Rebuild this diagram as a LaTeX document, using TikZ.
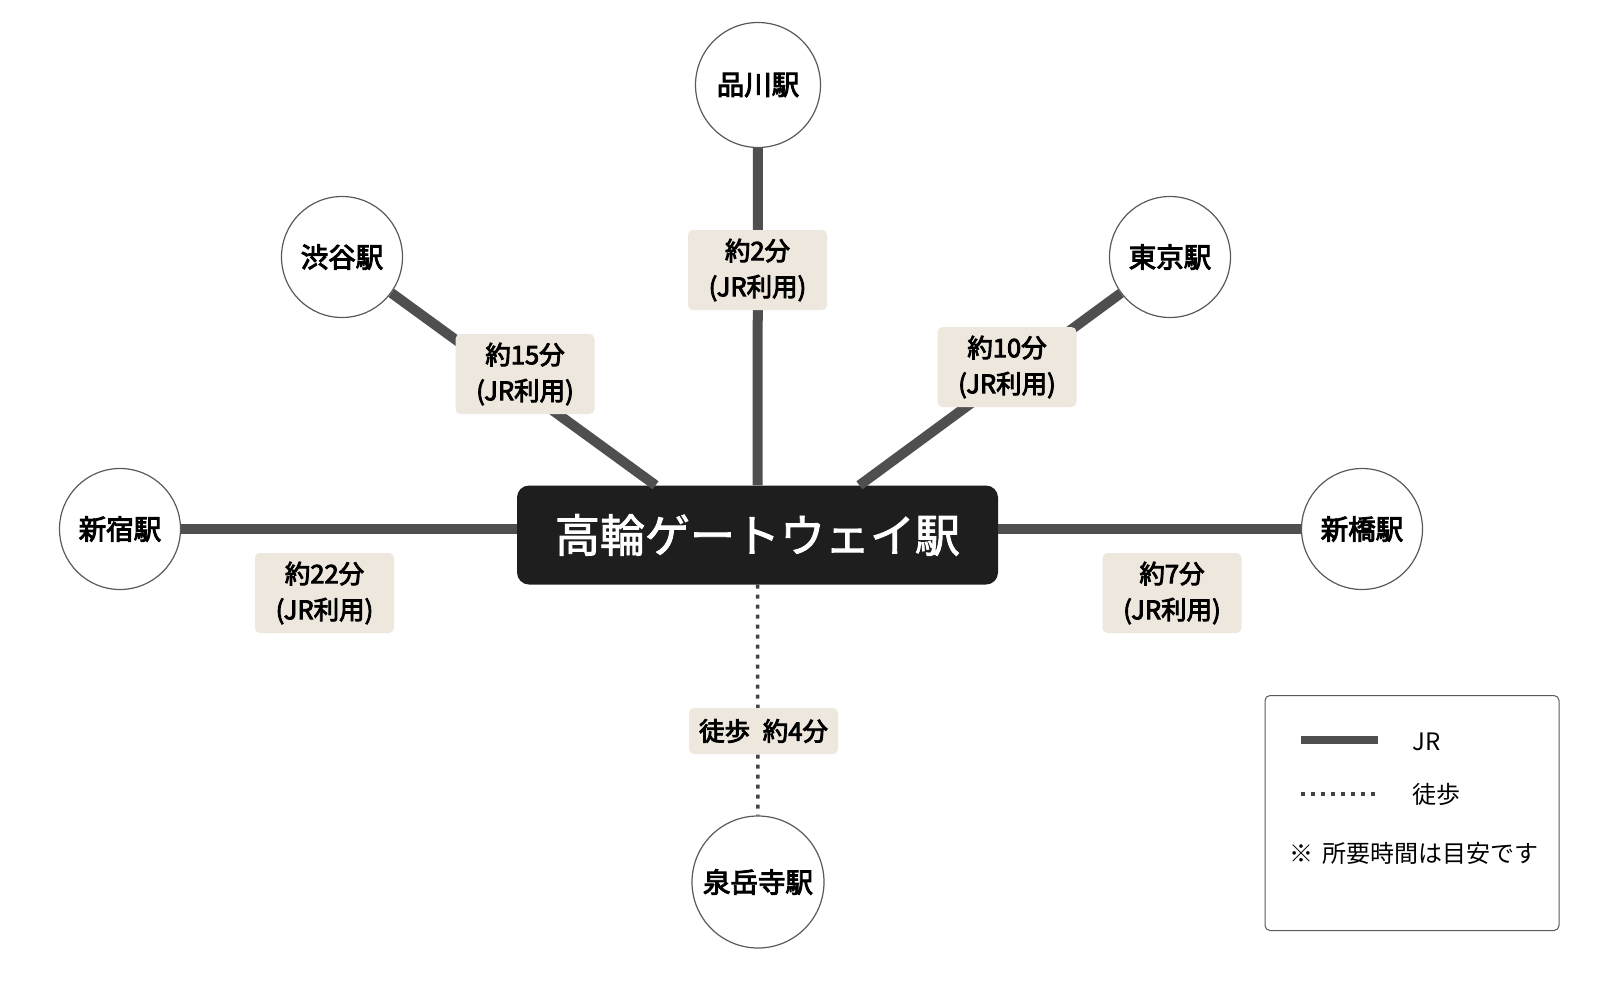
\documentclass[tikz,border=0pt]{standalone}
\usepackage{fontspec}
\setmainfont{Noto Sans CJK JP}
\newfontfamily\medfont[FakeBold=3.5]{Noto Sans CJK JP}
\newfontfamily\hubfont[FakeBold=2]{Noto Sans CJK JP}
\usepackage{xcolor}
\usepackage{tikz}
\usetikzlibrary{positioning}
\definecolor{jrgray}{HTML}{4F4F4F}
\definecolor{hubblack}{HTML}{1E1E1E}
\definecolor{tagbeige}{HTML}{EEE7DD}
\definecolor{ringgray}{HTML}{5A5A5A}

\begin{document}
\begin{tikzpicture}[x=1pt, y=-1pt,
  station/.style={circle, draw=ringgray, line width=1.2pt, fill=white, minimum size=121pt, inner sep=0pt, font=\fontsize{27.5}{30}\medfont},
  hubbox/.style={fill=hubblack, text=white, rounded corners=12pt, minimum width=481pt, minimum height=99pt, font=\fontsize{45}{54}\hubfont},
  tag/.style={fill=tagbeige, rounded corners=5pt, align=center, minimum width=139pt, minimum height=80pt, inner sep=4pt, font=\fontsize{25.5}{36}\medfont},
  jr/.style={draw=jrgray, line width=10pt},
  walk/.style={draw=jrgray!85!black, line width=3.5pt, dash pattern=on 4pt off 6pt},
  keytext/.style={anchor=west, inner sep=0pt, font=\fontsize{24}{28}\selectfont}]
\fill[white] (0,0) rectangle (1605,980);
\useasboundingbox (0,0) rectangle (1605,980);
\node[hubbox] (hub) at (757.5,535) {高輪ゲートウェイ駅};
\node[station, minimum size=125pt] (shin) at (758,85) {品川駅};
\node[station] (shib) at (342,257) {渋谷駅};
\node[station] (tok) at (1170,257) {東京駅};
\node[station] (juku) at (120,529) {新宿駅};
\node[station] (bashi) at (1362,529) {新橋駅};
\node[station, minimum size=132pt] (sen) at (758,882) {泉岳寺駅};
\draw[jr] (shin) -- (hub);
\draw[jr] (shib) -- (hub.154);
\draw[jr] (tok) -- (hub.26);
\draw[jr] (juku) -- (juku -| hub.west);
\draw[jr] (bashi) -- (bashi -| hub.east);
\draw[walk] (hub) -- (sen);
\node[tag] (t2) at (757.5,270) {約2分\\(JR利用)};
\node[tag] (t15) at (525,374) {約15分\\(JR利用)};
\node[tag] (t10) at (1007,367) {約10分\\(JR利用)};
\node[tag] (t22) at (324.5,593) {約22分\\(JR利用)};
\node[tag] (t7) at (1172,593) {約7分\\(JR利用)};
\node[tag, minimum width=149pt, minimum height=46pt] (t4) at (763.5,731) {徒歩\hspace{0.5em}約4分};
\node[draw=ringgray, line width=1pt, rounded corners=5pt, minimum width=294pt, minimum height=235pt] (key) at (1412,813) {};
\coordinate (jra) at (1301,740);
\coordinate (jrb) at (1378,740);
\coordinate (wka) at (1301,794);
\coordinate (wkb) at (1378,794);
\draw[jrgray, line width=8pt] (jra) -- (jrb);
\draw[walk] (wka) -- (wkb);
\node[keytext] (jrtxt) at (1412,742) {JR};
\node[keytext] (wktxt) at (1412,794) {徒歩};
\node[keytext] (note) at (1289,853) {※\hspace{0.4em}所要時間は目安です};
\end{tikzpicture}
\end{document}
